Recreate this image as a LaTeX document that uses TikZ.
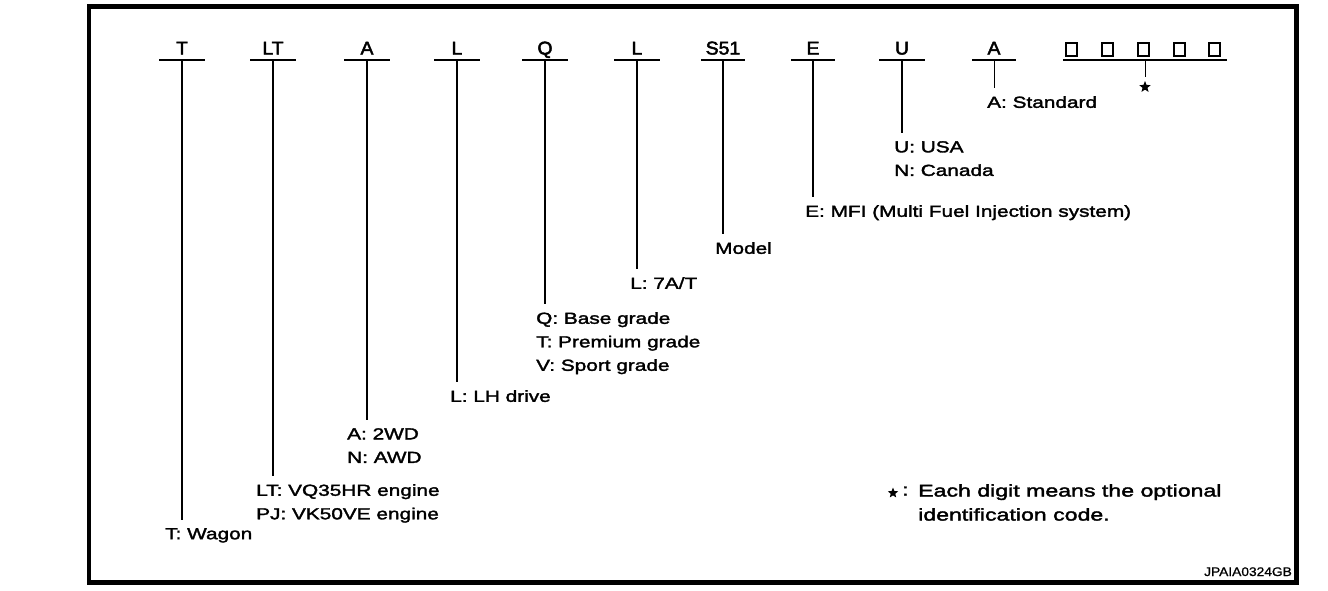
\documentclass[tikz,border=0pt]{standalone}
\usepackage{fontspec}
\setmainfont{Liberation Sans}
\newfontfamily\hdrfont[FakeStretch=1.05,FakeBold=2.5]{Liberation Sans}
\newfontfamily\lblfont[FakeStretch=1.3,FakeBold=2]{Liberation Sans}
\newfontfamily\notefont[FakeStretch=1.36,FakeBold=2.2]{Liberation Sans}
\newfontfamily\idfont[FakeStretch=1.1,FakeBold=1]{Liberation Sans}
\usetikzlibrary{shapes.geometric}
\begin{document}
\begin{tikzpicture}[x=1pt,y=-1pt,
  hd/.style={anchor=base, inner sep=0pt, minimum width=45pt, text depth=5.5pt, font=\hdrfont\fontsize{18.5}{22}\selectfont},
  ul/.style={line width=1.7pt},
  vl/.style={line width=1.2pt, shorten >=8pt},
  lbl/.style={anchor=north west, inner sep=0pt, align=left, font=\lblfont\fontsize{16}{23.5}\selectfont},
  sq/.style={draw, line width=2pt, minimum width=11pt, minimum height=13pt, inner sep=0pt},
  starsym/.style={star, star points=5, star point ratio=2.3, fill, draw=none, minimum size=12pt, inner sep=0pt},
]
\useasboundingbox (0,0) rectangle (1328,590);
\draw[line width=4.5pt] (89,6.5) rectangle (1296.5,582.5);

% header codes
\node[hd] (hT)  at (182,54.5) {T};
\node[hd] (hLT) at (273,54.5) {LT};
\node[hd] (hA)  at (367,54.5) {A};
\node[hd] (hL)  at (457,54.5) {L};
\node[hd] (hQ)  at (545,54.5) {Q};
\node[hd] (hLL) at (637,54.5) {L};
\node[hd, minimum width=43pt] (hS)  at (723,54.5) {S51};
\node[hd, minimum width=43pt] (hE)  at (813,54.5) {E};
\node[hd] (hU)  at (902,54.5) {U};
\node[hd, minimum width=43pt] (hAA) at (994,54.5) {A};
\node[hd, minimum width=164pt] (hX) at (1145,54.5) {};
\foreach \n in {hT,hLT,hA,hL,hQ,hLL,hS,hE,hU,hAA,hX}
  \draw[ul] (\n.south west) -- (\n.south east);

% optional digit boxes
\node[sq] (b1) at (1071.5,49) {};
\node[sq] (b2) at (1107.5,49) {};
\node[sq] (b3) at (1143.5,49) {};
\node[sq] (b4) at (1179,49) {};
\node[sq] (b5) at (1214,49) {};

% labels
\node[lbl] (lT)  at (165,528) {T: Wagon};
\node[lbl] (lLT) at (256,484) {LT: VQ35HR engine\\PJ: VK50VE engine};
\node[lbl] (lA)  at (347,428) {A: 2WD\\N: AWD};
\node[lbl] (lL)  at (450,390) {L: LH drive};
\node[lbl] (lQ)  at (536,312) {Q: Base grade\\T: Premium grade\\V: Sport grade};
\node[lbl] (lLL) at (630,277) {L: 7A/T};
\node[lbl] (lS)  at (715,242) {Model};
\node[lbl] (lE)  at (805,205) {E: MFI (Multi Fuel Injection system)};
\node[lbl] (lU)  at (894,141) {U: USA\\N: Canada};
\node[lbl] (lAA) at (987,96)  {A: Standard};
\node[starsym] (st) at (1145,87) {};

% connectors
\draw[vl] (hT.south)  -- (hT.south |- lT.north);
\draw[vl] (hLT.south) -- (hLT.south |- lLT.north);
\draw[vl] (hA.south)  -- (hA.south |- lA.north);
\draw[vl] (hL.south)  -- (hL.south |- lL.north);
\draw[vl] (hQ.south)  -- (hQ.south |- lQ.north);
\draw[vl] (hLL.south) -- (hLL.south |- lLL.north);
\draw[vl] (hS.south)  -- (hS.south |- lS.north);
\draw[vl] (hE.south)  -- (hE.south |- lE.north);
\draw[vl] (hU.south)  -- (hU.south |- lU.north);
\draw[vl, line width=0.8pt] (hAA.south) -- (hAA.south |- lAA.north);
\draw[line width=0.8pt, shorten >=3pt] (hX.south) -- (st.north);

% footnote
\node[starsym, minimum size=11pt] (fs) at (893,493) {};
\node[anchor=west, inner sep=0pt, font=\notefont\fontsize{17}{24}\selectfont] (fc) at (902,491) {:};
\node[anchor=north west, inner sep=0pt, align=left, font=\notefont\fontsize{17}{24}\selectfont] (fn) at (918,484) {Each digit means the optional\\identification code.};

\node[anchor=base east, inner sep=0pt, font=\idfont\fontsize{12.5}{14}\selectfont] (id) at (1292,576) {JPAIA0324GB};
\end{tikzpicture}
\end{document}
